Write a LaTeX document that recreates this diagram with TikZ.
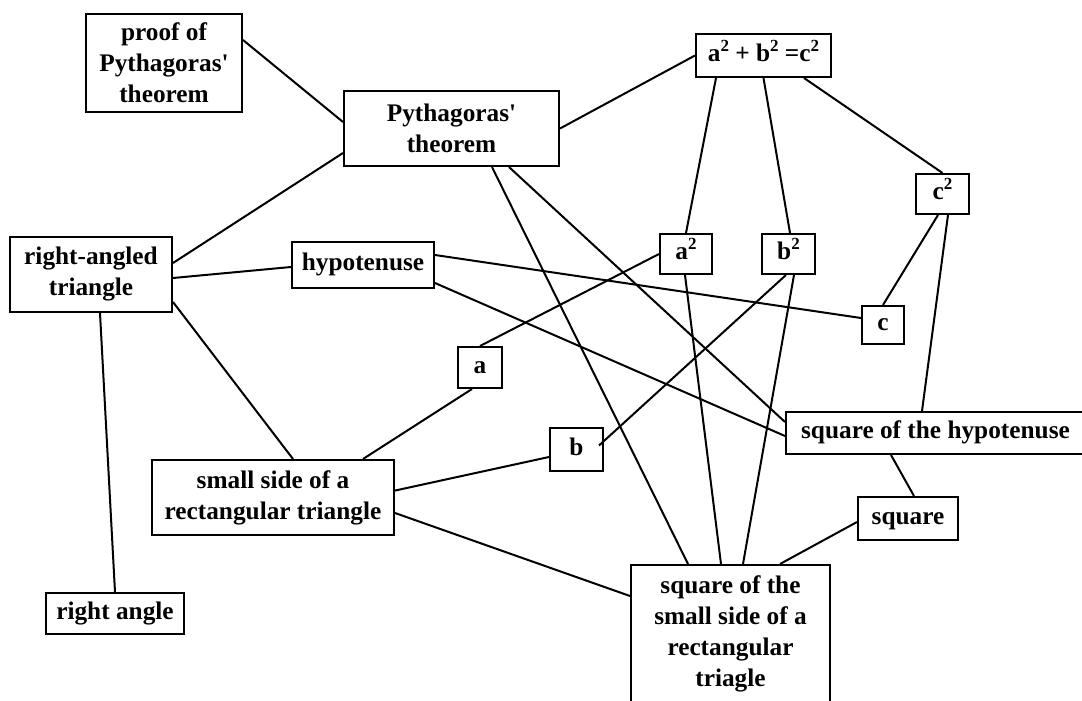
\documentclass[tikz,border=0pt]{standalone}
\usepackage{fontspec}
\setmainfont{Liberation Serif}[Ligatures=TeXOff]
\newcommand{\sq}{\raisebox{10pt}{\fontsize{17}{17}\selectfont 2}}
\begin{document}
\begin{tikzpicture}[x=1pt,y=-1pt,
  concept/.style={draw, line width=2pt, fill=white, inner sep=0pt, align=center,
    font=\bfseries\fontsize{25.3}{31}\selectfont},
  oneline/.style={concept, text height=17pt, text depth=5.5pt},
  link/.style={line width=2pt}]
\useasboundingbox (0,0) rectangle (1082,701);

% concepts
\node[concept, minimum width=156pt, minimum height=98pt] (proof) at (164,63) {proof of\\Pythagoras'\\theorem};
\node[concept, minimum width=215pt, minimum height=75pt] (pyth) at (451.5,128.5) {Pythagoras'\\theorem};
\node[oneline, minimum width=135pt, minimum height=43pt] (eq) at (763.5,55.5) {a\sq{} + b\sq{} =c\sq};
\node[oneline, minimum width=53pt, minimum height=40pt] (c2) at (942.5,194) {c\sq};
\node[concept, minimum width=162pt, minimum height=75pt] (rat) at (91,274.5) {right-angled\\triangle};
\node[oneline, minimum width=142pt, minimum height=46pt] (hyp) at (363,265) {hypotenuse};
\node[oneline, minimum width=52pt, minimum height=40pt] (a2) at (686,254) {a\sq};
\node[oneline, minimum width=53pt, minimum height=40pt] (b2) at (788.5,254) {b\sq};
\node[oneline, minimum width=42pt, minimum height=38pt] (c) at (883,325) {c};
\node[oneline, minimum width=44pt, minimum height=41pt] (a) at (480,367.5) {a};
\node[oneline, minimum width=53pt, minimum height=43pt] (b) at (576.5,449.5) {b};
\node[oneline, minimum width=299pt, minimum height=42pt] (sqhyp) at (935.5,433) {square of the hypotenuse};
\node[concept, minimum width=242pt, minimum height=75pt] (small) at (273,497.5) {small side of a\\rectangular triangle};
\node[oneline, minimum width=100pt, minimum height=43pt] (square) at (908,518.5) {square};
\node[oneline, minimum width=138pt, minimum height=41pt] (rangle) at (115,613.5) {right angle};
\node[concept, minimum width=199pt, minimum height=138pt] (sqsmall) at (730.5,634) {square of the\\small side of a\\rectangular\\triagle};

% links
\draw[link] ([shift={(0,-23)}]proof.east) -- ([shift={(0,-6.5)}]pyth.west);
\draw[link] ([shift={(0,-11.5)}]rat.east) -- ([shift={(0,24.5)}]pyth.west);
\draw[link] (pyth.east) -- (eq.west);
\draw[link] ([shift={(40.5,0)}]pyth.south) -- ([shift={(-42.5,0)}]sqsmall.north);
\draw[link] ([shift={(57.5,0)}]pyth.south) -- ([shift={(0,-11)}]sqhyp.west);
\draw[link] ([shift={(-47.5,0)}]eq.south) -- (a2.north);
\draw[link] (eq.south) -- ([shift={(1.5,0)}]b2.north);
\draw[link] ([shift={(40.5,0)}]eq.south) -- (c2.north);
\draw[link] ([shift={(-4.5,0)}]c2.south) -- (c.north);
\draw[link] ([shift={(5.5,0)}]c2.south) -- ([shift={(-13.5,0)}]sqhyp.north);
\draw[link] ([shift={(0,3.5)}]rat.east) -- ([shift={(0,2)}]hyp.west);
\draw[link] ([shift={(9,0)}]rat.south) -- (rangle.north);
\draw[link] ([shift={(0,27.5)}]rat.east) -- ([shift={(20,0)}]small.north);
\draw[link] ([shift={(0,-10)}]hyp.east) -- ([shift={(0,-7)}]c.west);
\draw[link] ([shift={(0,18)}]hyp.east) -- ([shift={(0,3)}]sqhyp.west);
\draw[link] (a2.west) -- (a.north);
\draw[link] ([shift={(-8,0)}]a.south) -- ([shift={(90,0)}]small.north);
\draw[link] ([shift={(-2.5,0)}]b2.south) -- ([shift={(-5,-4)}]b.east);
\draw[link] ([shift={(0,7.5)}]b.west) -- ([shift={(-2,-6.5)}]small.east);
\draw[link] ([shift={(5.5,0)}]b2.south) -- ([shift={(12.5,0)}]sqsmall.north);
\draw[link] ([shift={(-1,0)}]a2.south) -- ([shift={(-9.5,0)}]sqsmall.north);
\draw[link] ([shift={(0,15.5)}]small.east) -- ([shift={(0,-38)}]sqsmall.west);
\draw[link] ([shift={(-44.5,0)}]sqhyp.south) -- ([shift={(6,0)}]square.north);
\draw[link] ([shift={(0,3.5)}]square.west) -- ([shift={(49.5,0)}]sqsmall.north);
\end{tikzpicture}
\end{document}
